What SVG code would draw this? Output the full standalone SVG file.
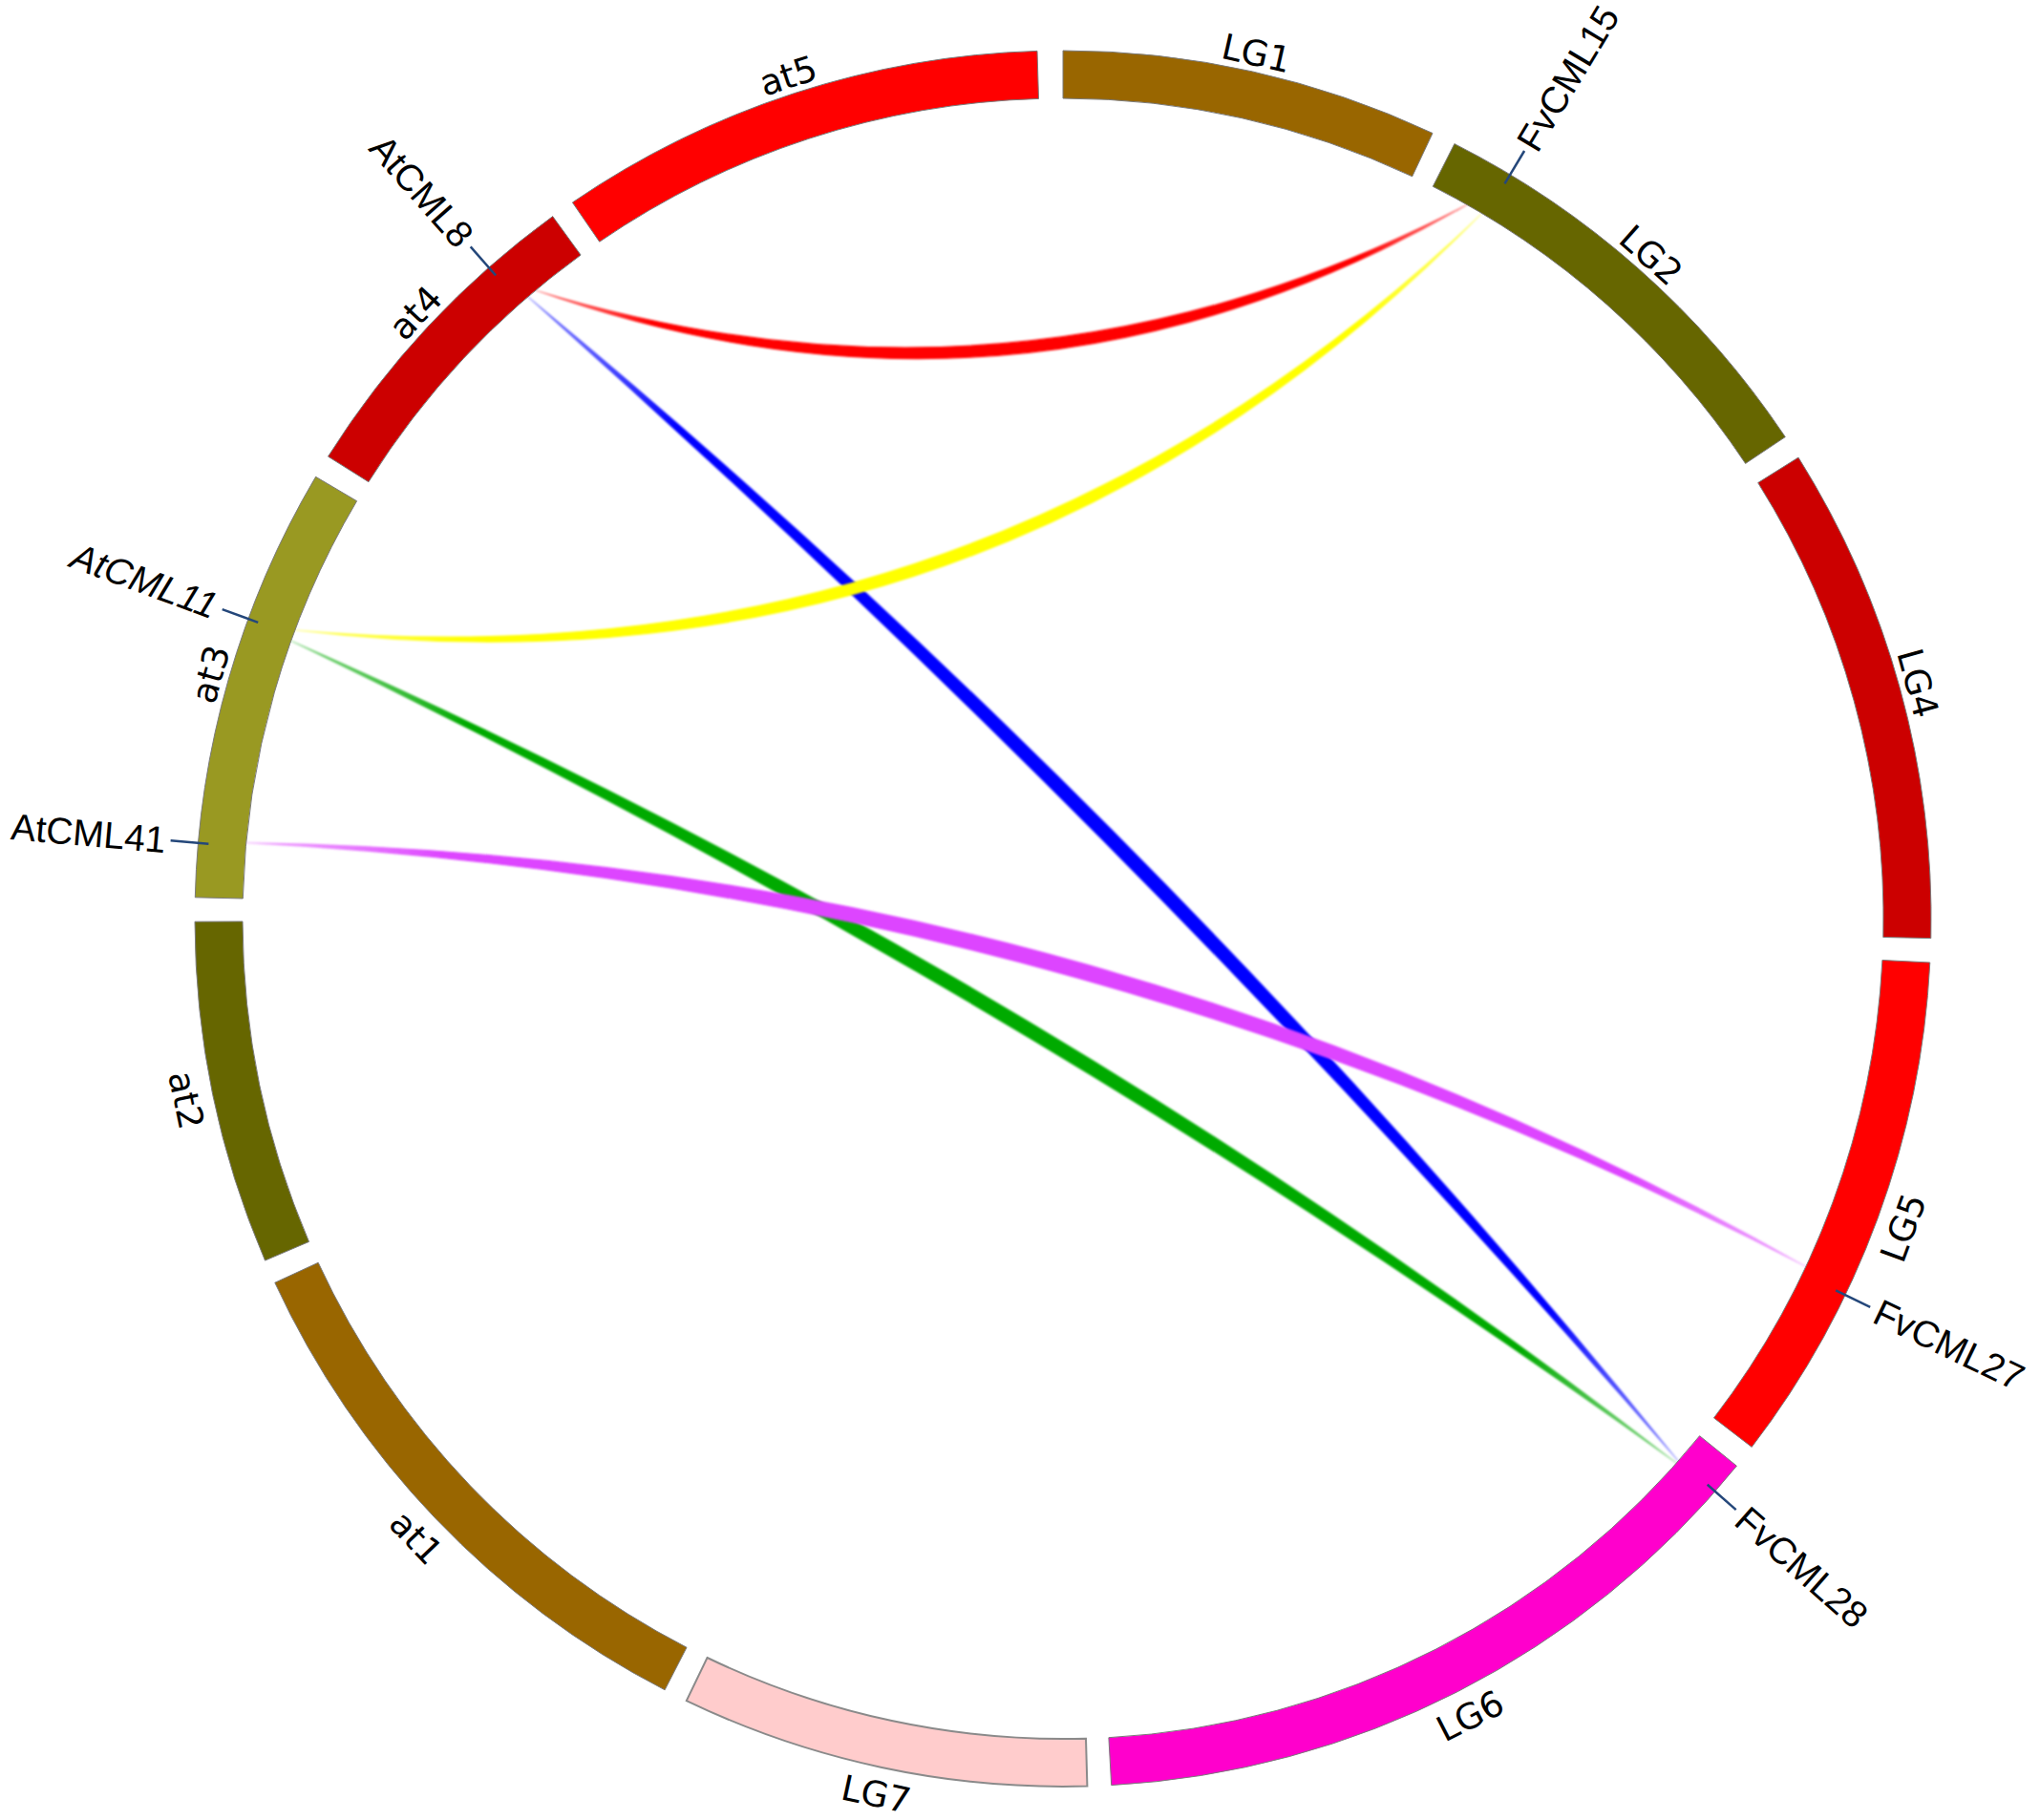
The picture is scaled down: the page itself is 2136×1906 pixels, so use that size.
<svg xmlns="http://www.w3.org/2000/svg" width="2136" height="1906" viewBox="0 0 2136 1906">
<style>
.seg{stroke:#7a7a7a;stroke-width:1}
.chr{font-family:"DejaVu Sans","Liberation Sans",sans-serif;font-size:37px;fill:#000;text-anchor:middle;dominant-baseline:central}
.gene{font-family:"Liberation Sans",Arial,sans-serif;font-size:39px;fill:#000;dominant-baseline:central}
.tick{stroke:#24477a;stroke-width:2.5;fill:none}
.link{filter:url(#soft);stroke-width:1.2;stroke-linejoin:round}
</style>
<defs>
<filter id="soft" x="-5%" y="-5%" width="110%" height="110%"><feGaussianBlur stdDeviation="1.3"/></filter>
<linearGradient id="gRed" gradientUnits="userSpaceOnUse" x1="560.8" y1="304" x2="1536" y2="214.4"><stop offset="0" stop-color="#ff0000" stop-opacity="0.35"/><stop offset="0.12" stop-color="#ff0000"/><stop offset="0.88" stop-color="#ff0000"/><stop offset="1" stop-color="#ff0000" stop-opacity="0.35"/></linearGradient>
<linearGradient id="gYel" gradientUnits="userSpaceOnUse" x1="308.9" y1="659.8" x2="1551.6" y2="223.4"><stop offset="0" stop-color="#ffff00" stop-opacity="0.35"/><stop offset="0.12" stop-color="#ffff00"/><stop offset="0.88" stop-color="#ffff00"/><stop offset="1" stop-color="#ffff00" stop-opacity="0.35"/></linearGradient>
<linearGradient id="gBlu" gradientUnits="userSpaceOnUse" x1="552.8" y1="310.8" x2="1757.3" y2="1530.1"><stop offset="0" stop-color="#0000ff" stop-opacity="0.3"/><stop offset="0.12" stop-color="#0000ff"/><stop offset="0.88" stop-color="#0000ff"/><stop offset="1" stop-color="#0000ff" stop-opacity="0.3"/></linearGradient>
<linearGradient id="gGrn" gradientUnits="userSpaceOnUse" x1="304.8" y1="671.1" x2="1755.4" y2="1532.3"><stop offset="0" stop-color="#00aa00" stop-opacity="0.3"/><stop offset="0.12" stop-color="#00aa00"/><stop offset="0.88" stop-color="#00aa00"/><stop offset="1" stop-color="#00aa00" stop-opacity="0.3"/></linearGradient>
<linearGradient id="gMag" gradientUnits="userSpaceOnUse" x1="257.7" y1="882.6" x2="1890.9" y2="1326.4"><stop offset="0" stop-color="#dd44ff" stop-opacity="0.3"/><stop offset="0.12" stop-color="#dd44ff"/><stop offset="0.88" stop-color="#dd44ff"/><stop offset="1" stop-color="#dd44ff" stop-opacity="0.3"/></linearGradient>
</defs>
<rect width="2136" height="1906" fill="#ffffff"/>

<g id="links">
<path class="link" d="M552.8,310.8 Q1195.4,880.4 1757.3,1530.1 Q1215.4,860.8 552.8,310.8 Z" fill="url(#gBlu)" stroke="url(#gBlu)"/>
<path class="link" d="M304.8,671.1 Q1068.1,1037.6 1755.4,1532.3 Q1082.4,1013.6 304.8,671.1 Z" fill="url(#gGrn)" stroke="url(#gGrn)"/>
<path class="link" d="M560.8,304 Q1069.1,483 1536,214.4 Q1066.9,459 560.8,304 Z" fill="url(#gRed)" stroke="url(#gRed)"/>
<path class="link" d="M308.9,659.8 Q1037.5,746.9 1551.6,223.4 Q1029.5,724.3 308.9,659.8 Z" fill="url(#gYel)" stroke="url(#gYel)"/>
<path class="link" d="M257.7,882.6 Q1122.4,927.2 1890.9,1326.4 Q1130.8,896.4 257.7,882.6 Z" fill="url(#gMag)" stroke="url(#gMag)"/>
</g>

<g id="LG1"><path class="seg" fill="#996600" d="M1113,53 A909,909 0 0 1 1500,139.5 L1478.7,184.8 A859,859 0 0 0 1113,103 Z"/><text class="chr" transform="translate(1315.4,56.3) rotate(12.6)">LG1</text></g>
<g id="LG2"><path class="seg" fill="#666600" d="M1522.9,150.6 A909,909 0 0 1 1869.3,457.6 L1827.6,485.4 A859,859 0 0 0 1500.3,195.3 Z"/><text class="chr" transform="translate(1728.5,267.5) rotate(41.55)">LG2</text></g>
<g id="LG4"><path class="seg" fill="#cc0000" d="M1883,479.1 A909,909 0 0 1 2021.8,982.6 L1971.8,981.5 A859,859 0 0 0 1840.7,505.6 Z"/><text class="chr" transform="translate(2007.7,715.6) rotate(74.6)">LG4</text></g>
<g id="LG5"><path class="seg" fill="#ff0000" d="M2020.8,1008 A909,909 0 0 1 1834.2,1515.4 L1794.5,1484.9 A859,859 0 0 0 1970.9,1005.5 Z"/><text class="chr" transform="translate(1993.3,1285.9) rotate(-69.8)">LG5</text></g>
<g id="LG6"><path class="seg" fill="#ff00cc" d="M1818.4,1535.2 A909,909 0 0 1 1163.7,1869.6 L1160.9,1819.7 A859,859 0 0 0 1779.6,1503.7 Z"/><text class="chr" transform="translate(1539.6,1797.4) rotate(-27.05)">LG6</text></g>
<g id="LG7"><path fill="#ffcccc" stroke="#8a8a8a" stroke-width="2" d="M1138.4,1870.6 A909,909 0 0 1 718.8,1781.1 L740.5,1736 A859,859 0 0 0 1137,1820.7 Z"/><text class="chr" transform="translate(917.2,1879.3) rotate(12.05)">LG7</text></g>
<g id="at1"><path class="seg" fill="#996600" d="M696.1,1769.8 A909,909 0 0 1 287.8,1343.3 L333.2,1322.3 A859,859 0 0 0 719,1725.3 Z"/><text class="chr" transform="translate(435.4,1610.6) rotate(46.25)">at1</text></g>
<g id="at2"><path class="seg" fill="#666600" d="M277.5,1320.1 A909,909 0 0 1 204,965.2 L254,965 A859,859 0 0 0 323.5,1300.4 Z"/><text class="chr" transform="translate(194.5,1152.2) rotate(78.3)">at2</text></g>
<g id="at3"><path class="seg" fill="#999922" d="M204.3,939.8 A909,909 0 0 1 330.6,499.3 L373.6,524.7 A859,859 0 0 0 254.3,941 Z"/><text class="chr" transform="translate(220.9,706.2) rotate(-74)">at3</text></g>
<g id="at4"><path class="seg" fill="#cc0000" d="M343.5,478.1 A909,909 0 0 1 578.7,226.6 L608.1,267.1 A859,859 0 0 0 385.9,504.7 Z"/><text class="chr" transform="translate(435.4,327.9) rotate(-46.9)">at4</text></g>
<g id="at5"><path class="seg" fill="#ff0000" d="M599.4,212 A909,909 0 0 1 1086,53.4 L1087.5,103.4 A859,859 0 0 0 627.7,253.2 Z"/><text class="chr" transform="translate(825.5,79.7) rotate(-18.05)">at5</text></g>

<g id="FvCML15"><line class="tick" x1="1575.5" y1="192.3" x2="1596.1" y2="158"/><text class="gene" transform="translate(1598.2,154.5) rotate(-59)">FvCML15</text></g>
<g id="AtCML8"><line class="tick" x1="519.1" y1="288.4" x2="492.7" y2="258.4"/><text class="gene" text-anchor="end" transform="translate(488.1,253.1) rotate(48.6)">AtCML8</text></g>
<g id="AtCML11"><line class="tick" x1="270.2" y1="651.9" x2="232.7" y2="638.1"/><text class="gene" text-anchor="end" font-style="italic" transform="translate(226.1,635.7) rotate(20.2)">AtCML11</text></g>
<g id="AtCML41"><line class="tick" x1="218.4" y1="883.7" x2="178.6" y2="880.2"/><text class="gene" text-anchor="end" transform="translate(173.6,879.8) rotate(5)">AtCML41</text></g>
<g id="FvCML27"><line class="tick" x1="1922.2" y1="1351.4" x2="1958.2" y2="1368.8"/><text class="gene" transform="translate(1964.5,1371.8) rotate(25.7)">FvCML27</text></g>
<g id="FvCML28"><line class="tick" x1="1787.7" y1="1554.7" x2="1817.7" y2="1581.1"/><text class="gene" transform="translate(1823,1585.7) rotate(41.3)">FvCML28</text></g>
</svg>
